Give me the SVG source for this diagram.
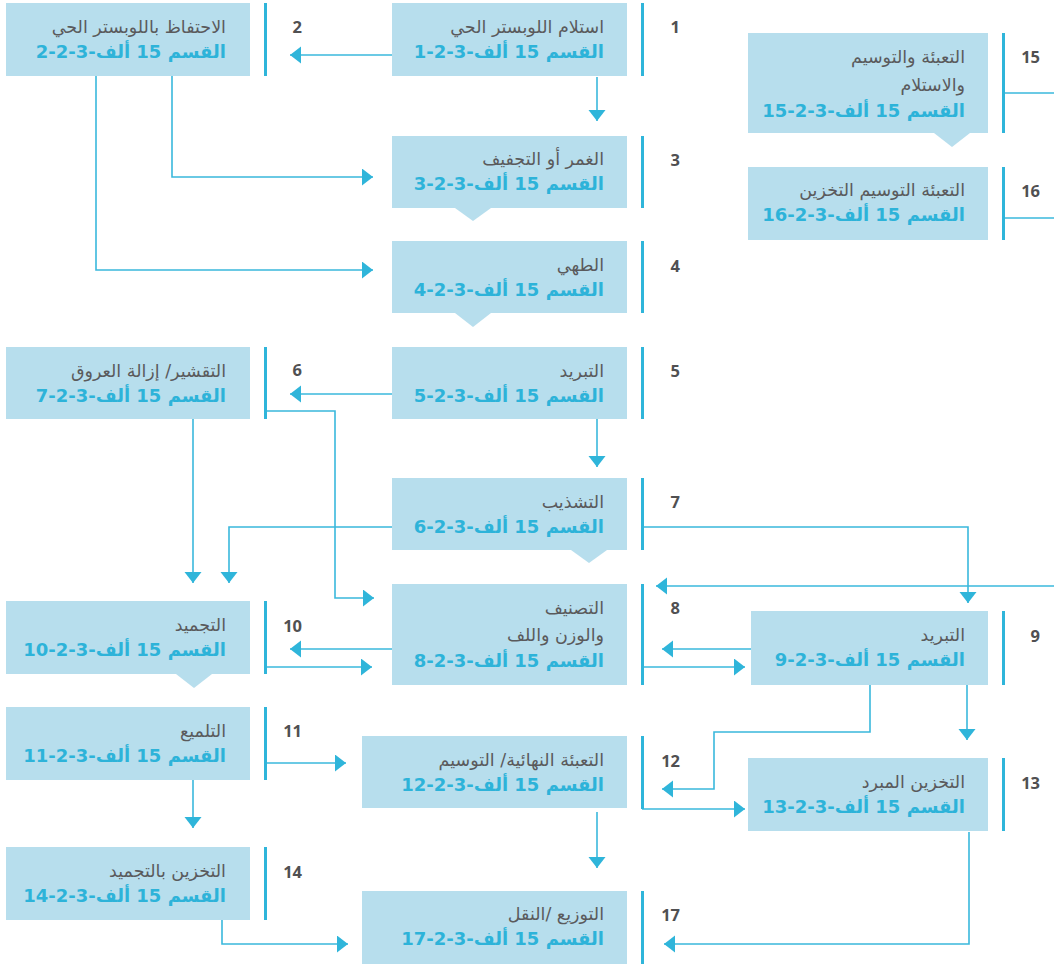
<svg xmlns="http://www.w3.org/2000/svg" width="1054" height="964" viewBox="0 0 1054 964">
  <style>
    .box{fill:#b7deed}
    .bar{fill:#2fb5da}
    .t{font-family:"DejaVu Sans",sans-serif;font-size:17.5px;fill:#5a5a5c;direction:rtl;text-anchor:start}
    .c{font-family:"DejaVu Sans",sans-serif;font-size:18px;font-weight:bold;fill:#2db3d9;direction:rtl;text-anchor:start}
    .n{font-family:"Open Sans",sans-serif;font-size:16.5px;font-weight:700;fill:#505052;text-anchor:end}
    .ln{fill:none;stroke:#3ab8dc;stroke-width:1.6}
    .ar{marker-end:url(#head)}
  </style>
  <defs>
    <marker id="head" markerUnits="userSpaceOnUse" markerWidth="12" markerHeight="18" refX="11" refY="8.5" orient="auto">
      <path d="M0,0 L11,8.5 L0,17 z" fill="#2fb5da"/>
    </marker>
  </defs>

  <rect width="1054" height="964" fill="#ffffff"/>

  <!-- connectors -->
  <g id="connectors">
    <path class="ln ar" d="M392,55 H290"/>
    <path class="ln ar" d="M597,77 V121"/>
    <path class="ln ar" d="M172,76 V177 H373"/>
    <path class="ln ar" d="M96,76 V270 H373"/>
    <path class="ln ar" d="M392,394 H290"/>
    <path class="ln ar" d="M265,411 H335 V598 H374"/>
    <path class="ln ar" d="M597,419 V467"/>
    <path class="ln ar" d="M392,527 H229 V583"/>
    <path class="ln ar" d="M193,419 V583"/>
    <path class="ln ar" d="M642,527 H968 V603"/>
    <path class="ln ar" d="M1054,586 H656"/>
    <path class="ln ar" d="M751,649 H662"/>
    <path class="ln ar" d="M642,667 H745"/>
    <path class="ln ar" d="M392,649 H290"/>
    <path class="ln ar" d="M265,667 H372"/>
    <path class="ln ar" d="M265,763 H346"/>
    <path class="ln ar" d="M193,780 V828"/>
    <path class="ln ar" d="M870,685 V732 H714 V789 H662"/>
    <path class="ln ar" d="M642,809 H745"/>
    <path class="ln ar" d="M967,685 V740"/>
    <path class="ln ar" d="M969,832 V944 H664"/>
    <path class="ln ar" d="M597,812 V868"/>
    <path class="ln ar" d="M222,920 V944 H348"/>
    <path class="ln" d="M1003,93 H1054"/>
    <path class="ln" d="M1003,218 H1054"/>
  </g>

  <!-- step 1 -->
  <g id="step1">
    <rect class="box" x="392" y="3" width="235" height="73"/>
    <rect class="bar" x="641" y="3" width="3" height="73"/>
    <text class="n" x="680" y="33">1</text>
    <text class="t" x="604" y="33">استلام اللوبستر الحي</text>
    <text class="c" x="604" y="58">القسم 15 ألف-3-2-1</text>
  </g>

  <!-- step 2 -->
  <g id="step2">
    <rect class="box" x="6" y="3" width="244" height="73"/>
    <rect class="bar" x="264" y="3" width="3" height="73"/>
    <text class="n" x="302" y="33">2</text>
    <text class="t" x="226" y="33">الاحتفاظ باللوبستر الحي</text>
    <text class="c" x="226" y="58">القسم 15 ألف-3-2-2</text>
  </g>

  <!-- step 3 -->
  <g id="step3">
    <rect class="box" x="392" y="136" width="235" height="72"/>
    <path class="box" d="M455,208 H491 L473,221 z"/>
    <rect class="bar" x="641" y="136" width="3" height="72"/>
    <text class="n" x="680" y="166">3</text>
    <text class="t" x="604" y="165">الغمر أو التجفيف</text>
    <text class="c" x="604" y="190">القسم 15 ألف-3-2-3</text>
  </g>

  <!-- step 4 -->
  <g id="step4">
    <rect class="box" x="392" y="241" width="235" height="72"/>
    <path class="box" d="M455,313 H491 L473,327 z"/>
    <rect class="bar" x="641" y="241" width="3" height="72"/>
    <text class="n" x="680" y="272">4</text>
    <text class="t" x="604" y="271">الطهي</text>
    <text class="c" x="604" y="296">القسم 15 ألف-3-2-4</text>
  </g>

  <!-- step 5 -->
  <g id="step5">
    <rect class="box" x="392" y="347" width="235" height="72"/>
    <rect class="bar" x="641" y="347" width="3" height="72"/>
    <text class="n" x="680" y="377">5</text>
    <text class="t" x="604" y="377">التبريد</text>
    <text class="c" x="604" y="402">القسم 15 ألف-3-2-5</text>
  </g>

  <!-- step 6 -->
  <g id="step6">
    <rect class="box" x="6" y="347" width="244" height="72"/>
    <rect class="bar" x="264" y="347" width="3" height="72"/>
    <text class="n" x="302" y="376">6</text>
    <text class="t" x="226" y="377">التقشير/ إزالة العروق</text>
    <text class="c" x="226" y="402">القسم 15 ألف-3-2-7</text>
  </g>

  <!-- step 7 -->
  <g id="step7">
    <rect class="box" x="392" y="478" width="235" height="72"/>
    <path class="box" d="M571,550 H607 L589,563 z"/>
    <rect class="bar" x="641" y="478" width="3" height="72"/>
    <text class="n" x="680" y="508">7</text>
    <text class="t" x="604" y="508">التشذيب</text>
    <text class="c" x="604" y="533">القسم 15 ألف-3-2-6</text>
  </g>

  <!-- step 8 -->
  <g id="step8">
    <rect class="box" x="392" y="584" width="235" height="101"/>
    <rect class="bar" x="641" y="584" width="3" height="101"/>
    <text class="n" x="680" y="614">8</text>
    <text class="t" x="604" y="614">التصنيف</text>
    <text class="t" x="604" y="641">والوزن واللف</text>
    <text class="c" x="604" y="667">القسم 15 ألف-3-2-8</text>
  </g>

  <!-- step 9 -->
  <g id="step9">
    <rect class="box" x="751" y="611" width="237" height="74"/>
    <rect class="bar" x="1002" y="611" width="3" height="74"/>
    <text class="n" x="1040" y="642">9</text>
    <text class="t" x="965" y="641">التبريد</text>
    <text class="c" x="965" y="666">القسم 15 ألف-3-2-9</text>
  </g>

  <!-- step 10 -->
  <g id="step10">
    <rect class="box" x="6" y="601" width="244" height="73"/>
    <path class="box" d="M176,674 H212 L194,688 z"/>
    <rect class="bar" x="264" y="601" width="3" height="73"/>
    <text class="n" x="302" y="632">10</text>
    <text class="t" x="226" y="631">التجميد</text>
    <text class="c" x="226" y="656">القسم 15 ألف-3-2-10</text>
  </g>

  <!-- step 11 -->
  <g id="step11">
    <rect class="box" x="6" y="707" width="244" height="73"/>
    <rect class="bar" x="264" y="707" width="3" height="73"/>
    <text class="n" x="302" y="737">11</text>
    <text class="t" x="226" y="737">التلميع</text>
    <text class="c" x="226" y="762">القسم 15 ألف-3-2-11</text>
  </g>

  <!-- step 12 -->
  <g id="step12">
    <rect class="box" x="362" y="736" width="265" height="72"/>
    <rect class="bar" x="641" y="736" width="3" height="73"/>
    <text class="n" x="680" y="767">12</text>
    <text class="t" x="604" y="766">التعبئة النهائية/ التوسيم</text>
    <text class="c" x="604" y="791">القسم 15 ألف-3-2-12</text>
  </g>

  <!-- step 13 -->
  <g id="step13">
    <rect class="box" x="748" y="758" width="240" height="73"/>
    <rect class="bar" x="1002" y="758" width="3" height="73"/>
    <text class="n" x="1040" y="789">13</text>
    <text class="t" x="965" y="788">التخزين المبرد</text>
    <text class="c" x="965" y="813">القسم 15 ألف-3-2-13</text>
  </g>

  <!-- step 14 -->
  <g id="step14">
    <rect class="box" x="6" y="847" width="244" height="73"/>
    <rect class="bar" x="264" y="847" width="3" height="73"/>
    <text class="n" x="302" y="878">14</text>
    <text class="t" x="226" y="877">التخزين بالتجميد</text>
    <text class="c" x="226" y="902">القسم 15 ألف-3-2-14</text>
  </g>

  <!-- step 15 -->
  <g id="step15">
    <rect class="box" x="748" y="33" width="240" height="100"/>
    <path class="box" d="M934,133 H970 L952,147 z"/>
    <rect class="bar" x="1002" y="33" width="3" height="100"/>
    <text class="n" x="1040" y="63">15</text>
    <text class="t" x="965" y="63">التعبئة والتوسيم</text>
    <text class="t" x="965" y="91">والاستلام</text>
    <text class="c" x="965" y="117">القسم 15 ألف-3-2-15</text>
  </g>

  <!-- step 16 -->
  <g id="step16">
    <rect class="box" x="748" y="167" width="240" height="73"/>
    <rect class="bar" x="1002" y="167" width="3" height="73"/>
    <text class="n" x="1040" y="197">16</text>
    <text class="t" x="965" y="196">التعبئة التوسيم التخزين</text>
    <text class="c" x="965" y="221">القسم 15 ألف-3-2-16</text>
  </g>

  <!-- step 17 -->
  <g id="step17">
    <rect class="box" x="362" y="891" width="265" height="73"/>
    <rect class="bar" x="641" y="891" width="3" height="73"/>
    <text class="n" x="680" y="921">17</text>
    <text class="t" x="604" y="920">التوزيع /النقل</text>
    <text class="c" x="604" y="945">القسم 15 ألف-3-2-17</text>
  </g>
</svg>
